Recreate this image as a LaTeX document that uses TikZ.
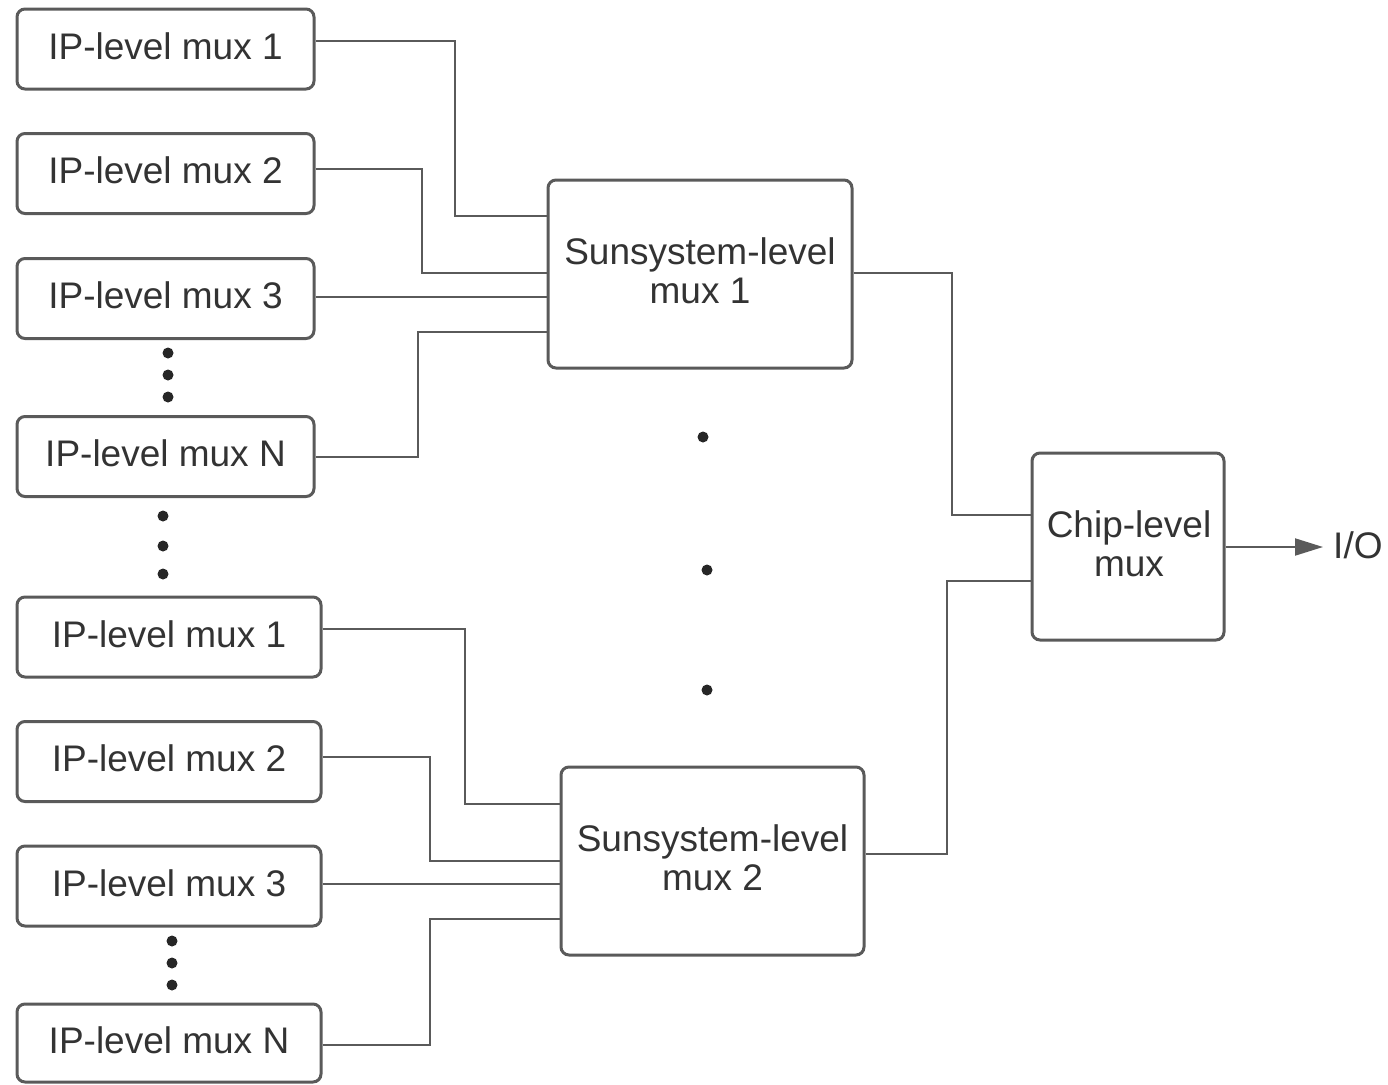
\documentclass[tikz,border=0pt]{standalone}
\usepackage{fontspec}
\setmainfont{Liberation Sans}
\usetikzlibrary{arrows.meta}
\definecolor{edge}{HTML}{5A5A5A}
\definecolor{ink}{HTML}{333333}
\begin{document}
\begin{tikzpicture}[x=1pt,y=-1pt,
  mbox/.style={draw=edge, line width=3pt, rounded corners=8pt, fill=white,
    inner sep=0pt, text=ink, align=center,
    font=\fontsize{37}{39}\selectfont},
  ipbox/.style={mbox, minimum width=297pt, minimum height=80pt,
    text height=27pt, text depth=7pt},
  label/.style={text=ink, font=\fontsize{37}{39}\selectfont, align=center},
  wire/.style={draw=edge, line width=2pt},
  dotmark/.style={fill=black!85, circle, inner sep=0pt, minimum size=11pt}]
\useasboundingbox (0,0) rectangle (1388,1084);

% first group of IP-level muxes
\node[ipbox] (a1) at (165.5,49) {IP-level mux 1};
\node[ipbox] (a2) at (165.5,173.5) {IP-level mux 2};
\node[ipbox] (a3) at (165.5,298.5) {IP-level mux 3};
\node[ipbox] (aN) at (165.5,456.5) {IP-level mux N};

% second group of IP-level muxes
\node[ipbox, minimum width=304pt] (b1) at (169,637) {IP-level mux 1};
\node[ipbox, minimum width=304pt] (b2) at (169,761.5) {IP-level mux 2};
\node[ipbox, minimum width=304pt] (b3) at (169,886) {IP-level mux 3};
\node[ipbox, minimum width=304pt, minimum height=78pt] (bN) at (169,1043) {IP-level mux N};

% subsystem and chip muxes
\node[mbox, minimum width=304pt, minimum height=188pt] (s1) at (700,274) {};
\node[label] (s1t) at (700,271) {Sunsystem-level\\mux 1};
\node[mbox, minimum width=303pt, minimum height=188pt] (s2) at (712.5,861) {};
\node[label] (s2t) at (712.5,858) {Sunsystem-level\\mux 2};
\node[mbox, minimum width=192pt, minimum height=187pt] (c) at (1128,546.5) {};
\node[label] (ct) at (1129,544) {Chip-level\\mux};

\node[label, anchor=west, inner sep=0pt] (io) at (1333,545) {I/O};

% ellipsis dots
\node[dotmark] (d1) at (168,353) {};
\node[dotmark] (d2) at (168,375) {};
\node[dotmark] (d3) at (168,397) {};
\node[dotmark] (d4) at (163,516) {};
\node[dotmark] (d5) at (163,546) {};
\node[dotmark] (d6) at (163,574) {};
\node[dotmark] (d7) at (172,941) {};
\node[dotmark] (d8) at (172,963) {};
\node[dotmark] (d9) at (172,985) {};
\node[dotmark] (m1) at (703,437) {};
\node[dotmark] (m2) at (707,570) {};
\node[dotmark] (m3) at (707,690) {};

% wiring into subsystem mux 1
\draw[wire] (a1.east |- 0,41) -- (455,41) |- (s1.west |- 0,216);
\draw[wire] (a2.east |- 0,169) -- (422,169) |- (s1.west |- 0,273);
\draw[wire] (a3.east |- 0,297) -- (s1.west |- 0,297);
\draw[wire] (aN.east |- 0,457) -- (418,457) |- (s1.west |- 0,332);

% wiring into subsystem mux 2
\draw[wire] (b1.east |- 0,629) -- (465,629) |- (s2.west |- 0,804);
\draw[wire] (b2.east |- 0,757) -- (430,757) |- (s2.west |- 0,861);
\draw[wire] (b3.east |- 0,884) -- (s2.west |- 0,884);
\draw[wire] (bN.east |- 0,1045) -- (430,1045) |- (s2.west |- 0,919);

% subsystem muxes to chip mux
\draw[wire] (s1.east |- 0,273) -- (952,273) |- (c.west |- 0,515);
\draw[wire] (s2.east |- 0,854) -- (947,854) |- (c.west |- 0,581);

% chip output
\draw[wire, -{Triangle[length=28pt,width=17pt]}] (c.east |- 0,547) -- (1323,547);
\end{tikzpicture}
\end{document}
